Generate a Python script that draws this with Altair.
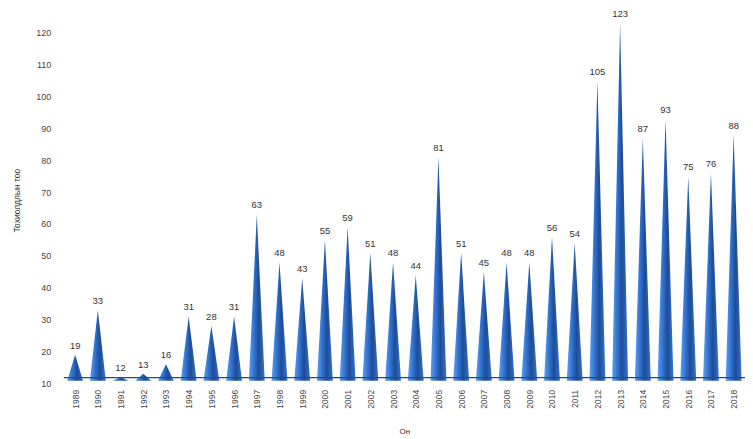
import altair as alt
import pandas as pd

years = [str(y) for y in range(1989, 2019)]
values = [19, 33, 12, 13, 16, 31, 28, 31, 63, 48, 43, 55, 59, 51, 48, 44, 81,
          51, 45, 48, 48, 56, 54, 105, 123, 87, 93, 75, 76, 88]
y_ticks = [10, 20, 30, 40, 50, 60, 70, 80, 90, 100, 110, 120]
base_value = 10.8
floor_value = 11.8
half_width = 0.35
first_year = int(years[0])

labels_df = pd.DataFrame({"i": list(range(len(years))), "year": years, "value": values})
rows = []
for i, (y, v) in enumerate(zip(years, values)):
    rows.append({"year": y, "v": base_value, "xa": i - half_width, "xb": i + half_width})
    rows.append({"year": y, "v": v, "xa": i, "xb": i})
cones_df = pd.DataFrame(rows)
floor_df = pd.DataFrame({"v": [floor_value]})

xscale = alt.Scale(domain=[-0.5, len(years) - 0.5], nice=False, zero=False)
yscale = alt.Scale(domain=[10, 125], nice=False, zero=False)

x_axis = alt.Axis(title="Он", values=list(range(len(years))),
                  labelExpr=f"'' + (datum.value + {first_year})",
                  labelAngle=270, labelFontSize=8.5, labelColor="#444",
                  labelFont="Arial", grid=False, domain=False, ticks=False,
                  labelPadding=6, labelOverlap=False, labelBound=False,
                  titleFontSize=8, titleFont="Arial", titleFontWeight="normal",
                  titleColor="#333", titlePadding=19)

y_axis = alt.Axis(title="Тохиолдлын тоо", values=y_ticks,
                  grid=False, domain=False, ticks=False, labelOverlap=False,
                  labelFontSize=9, labelColor="#444", labelFont="Arial",
                  labelPadding=13,
                  titleFontSize=8.5, titleFont="Arial",
                  titleFontWeight="normal", titleColor="#333",
                  titlePadding=14)

grad = alt.Gradient(gradient="linear",
                    stops=[alt.GradientStop(offset=0, color="#5e9ff0"),
                           alt.GradientStop(offset=0.35, color="#2f70d0"),
                           alt.GradientStop(offset=0.62, color="#1f4c93"),
                           alt.GradientStop(offset=1, color="#3574cf")],
                    x1=0, x2=1, y1=0, y2=0)

cones = alt.Chart(cones_df).mark_area(color=grad, orient="horizontal").encode(
    x=alt.X("xa:Q", scale=xscale, axis=x_axis),
    x2="xb:Q",
    y=alt.Y("v:Q", scale=yscale, axis=y_axis),
    detail="year:N",
)

floor = alt.Chart(floor_df).mark_rule(color="#2b4a6b", strokeWidth=1.2).encode(
    y=alt.Y("v:Q", scale=yscale, axis=y_axis)
)

texts = alt.Chart(labels_df).mark_text(dy=-9, fontSize=9.5, color="#333",
                                       font="Arial").encode(
    x=alt.X("i:Q", scale=xscale, axis=x_axis),
    y=alt.Y("value:Q", scale=yscale, axis=y_axis),
    text="value:Q",
)

chart = alt.layer(cones, floor, texts).properties(
    width=684, height=368,
    background="white",
    autosize=alt.AutoSizeParams(type="none"),
    padding={"left": 56, "top": 8, "right": 0, "bottom": 54},
).configure_view(strokeWidth=0, stroke="transparent").configure_axis(
    labelOverlap=False, grid=False, domain=False
)

chart.save("out.html", embed_options={"renderer": "svg", "actions": False})
